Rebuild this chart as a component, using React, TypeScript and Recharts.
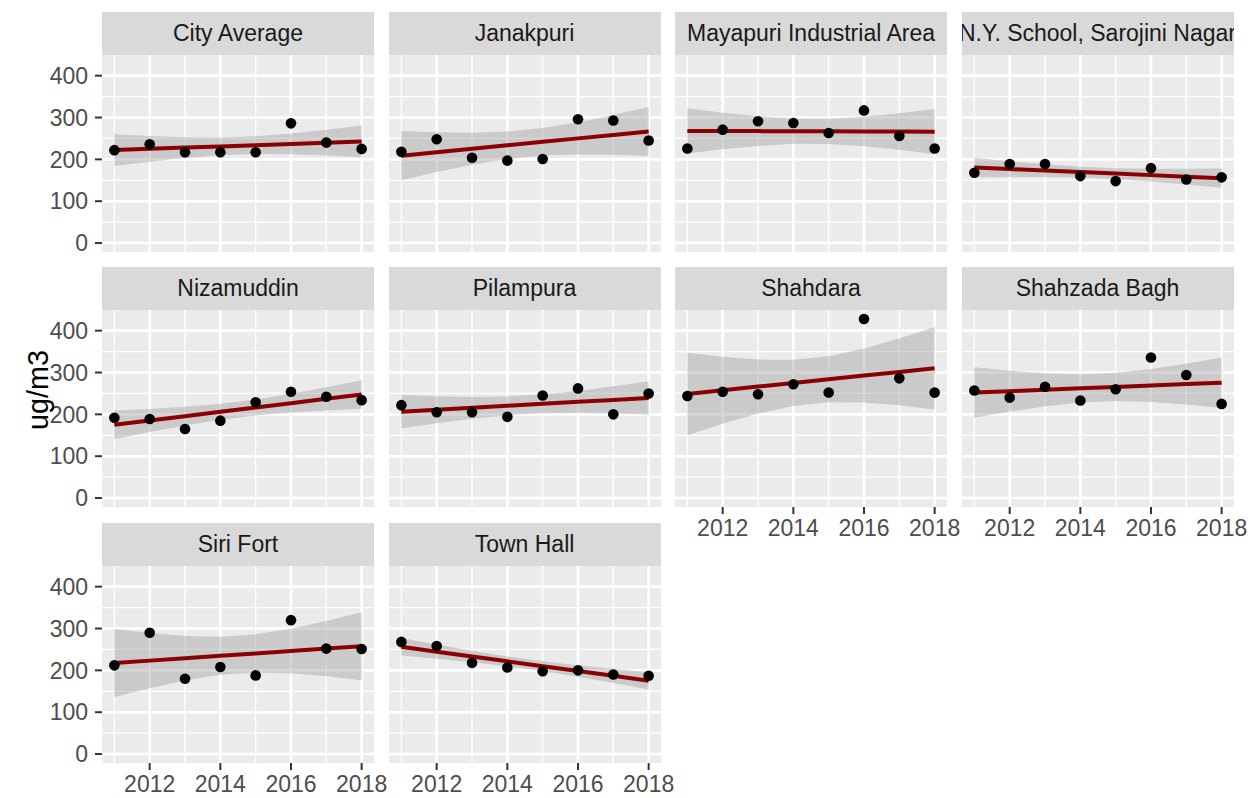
import {
  Area,
  CartesianGrid,
  ComposedChart,
  Line,
  Scatter,
  XAxis,
  YAxis,
} from "recharts"

// Annual mean concentration (ug/m3) per monitoring station
const YEARS = [2011, 2012, 2013, 2014, 2015, 2016, 2017, 2018]

const CITY_AVERAGE = [222, 236, 217, 217, 217, 286, 240, 225]
const JANAKPURI = [218, 248, 204, 197, 201, 296, 293, 245]
const MAYAPURI = [226, 271, 291, 287, 263, 317, 256, 226]
const NY_SCHOOL = [168, 189, 189, 160, 148, 179, 152, 157]
const NIZAMUDDIN = [192, 189, 165, 185, 229, 254, 242, 234]
const PILAMPURA = [222, 205, 205, 194, 245, 262, 200, 250]
const SHAHDARA = [244, 254, 248, 272, 252, 428, 286, 252]
const SHAHZADA_BAGH = [257, 240, 266, 233, 260, 336, 294, 225]
const SIRI_FORT = [212, 290, 180, 208, 188, 320, 252, 251]
const TOWN_HALL = [268, 258, 218, 207, 198, 200, 190, 187]

const STATIONS = [
  "City Average",
  "Janakpuri",
  "Mayapuri Industrial Area",
  "N.Y. School, Sarojini Nagar",
  "Nizamuddin",
  "Pilampura",
  "Shahdara",
  "Shahzada Bagh",
  "Siri Fort",
  "Town Hall",
]
const SERIES = [
  CITY_AVERAGE,
  JANAKPURI,
  MAYAPURI,
  NY_SCHOOL,
  NIZAMUDDIN,
  PILAMPURA,
  SHAHDARA,
  SHAHZADA_BAGH,
  SIRI_FORT,
  TOWN_HALL,
]

const X_TICKS = [2012, 2014, 2016, 2018]
const X_MINOR = [2011, 2013, 2015, 2017]
const Y_TICKS = [0, 100, 200, 300, 400]
const Y_MINOR = [50, 150, 250, 350]

// layout
const NCOL = 4
const PLOT_LEFT = 102
const PLOT_W = 272
const COL_STEP = 286.5
const ROW_TOPS = [12, 267, 523]
const STRIP_H = 43
const PLOT_H = 197
const Y_AXIS_W = PLOT_LEFT
const X_AXIS_H = 34
const RIGHT_PAD = 18
const BOTTOM_PAD = 10

const FONT = "'Liberation Sans', Arial, Helvetica, sans-serif"
const T_975_DF6 = 2.446912

// lm(y ~ year) with 95% confidence band, as geom_smooth(method = "lm")
function lmFit(values: number[]) {
  const n = values.length
  const xbar = YEARS.reduce((a, b) => a + b, 0) / n
  const ybar = values.reduce((a, b) => a + b, 0) / n
  let sxx = 0
  let sxy = 0
  YEARS.forEach((x, i) => {
    sxx += (x - xbar) ** 2
    sxy += (x - xbar) * (values[i] - ybar)
  })
  const slope = sxy / sxx
  const fit = YEARS.map((x) => ybar + slope * (x - xbar))
  const sse = values.reduce((a, y, i) => a + (y - fit[i]) ** 2, 0)
  const s = Math.sqrt(sse / (n - 2))
  const half = YEARS.map(
    (x) => T_975_DF6 * s * Math.sqrt(1 / n + (x - xbar) ** 2 / sxx)
  )
  return YEARS.map((year, i) => ({
    year,
    value: values[i],
    fit: fit[i],
    band: [fit[i] - half[i], fit[i] + half[i]],
  }))
}

const Dot = (props: any) => {
  const { cx, cy } = props
  if (cx == null || cy == null) return null
  return <circle cx={cx} cy={cy} r={5.3} fill="#000" />
}

function Panel({ idx }: { idx: number }) {
  const row = Math.floor(idx / NCOL)
  const col = idx % NCOL
  const showY = col === 0
  const lastInCol = idx + NCOL >= STATIONS.length
  const left = PLOT_LEFT + col * COL_STEP
  const top = ROW_TOPS[row]
  const data = lmFit(SERIES[idx])
  const chartW = PLOT_W + (showY ? Y_AXIS_W : 0) + RIGHT_PAD
  const chartH = PLOT_H + (lastInCol ? X_AXIS_H : 0) + BOTTOM_PAD

  return (
    <>
      <div
        style={{
          position: "absolute",
          left,
          top,
          width: PLOT_W,
          height: STRIP_H,
          background: "#D9D9D9",
          overflow: "hidden",
          display: "flex",
          alignItems: "center",
          justifyContent: "center",
        }}
      >
        <span
          style={{
            whiteSpace: "nowrap",
            fontFamily: FONT,
            fontSize: 23,
            color: "#1A1A1A",
          }}
        >
          {STATIONS[idx]}
        </span>
      </div>
      <div
        style={{
          position: "absolute",
          left: showY ? left - Y_AXIS_W : left,
          top: top + STRIP_H,
        }}
      >
        <ComposedChart
          width={chartW}
          height={chartH}
          data={data}
          margin={{ top: 0, right: RIGHT_PAD, bottom: BOTTOM_PAD, left: 0 }}
        >
          <CartesianGrid
            fill="#EBEBEB"
            stroke="#FFFFFF"
            strokeWidth={1.3}
            horizontalValues={Y_MINOR}
            verticalValues={X_MINOR}
          />
          <CartesianGrid
            stroke="#FFFFFF"
            strokeWidth={2.6}
            horizontalValues={Y_TICKS}
            verticalValues={X_TICKS}
          />
          <XAxis
            dataKey="year"
            type="number"
            domain={[2010.65, 2018.35]}
            ticks={X_TICKS}
            hide={!lastInCol}
            height={X_AXIS_H}
            axisLine={false}
            tickLine={{ stroke: "#333333", strokeWidth: 2 }}
            tickSize={7}
            tickMargin={6}
            tick={{ fill: "#4D4D4D", fontSize: 23, fontFamily: FONT }}
            interval={0}
          />
          <YAxis
            type="number"
            domain={[-21.4, 449.4]}
            ticks={Y_TICKS}
            hide={!showY}
            width={Y_AXIS_W}
            axisLine={false}
            tickLine={{ stroke: "#333333", strokeWidth: 2 }}
            tickSize={7}
            tickMargin={7}
            tick={{ fill: "#4D4D4D", fontSize: 23, fontFamily: FONT }}
            interval={0}
          />
          <Area
            type="linear"
            dataKey="band"
            stroke="none"
            fill="#999999"
            fillOpacity={0.4}
            isAnimationActive={false}
          />
          <Line
            type="linear"
            dataKey="fit"
            stroke="#8B0000"
            strokeWidth={4}
            dot={false}
            activeDot={false}
            isAnimationActive={false}
          />
          <Scatter dataKey="value" shape={<Dot />} isAnimationActive={false} />
        </ComposedChart>
      </div>
    </>
  )
}

export default function App() {
  return (
    <div
      style={{
        position: "absolute",
        left: 0,
        top: 0,
        width: 1252,
        height: 798,
        background: "#FFFFFF",
        overflow: "hidden",
      }}
    >
      {STATIONS.map((_, i) => (
        <Panel key={STATIONS[i]} idx={i} />
      ))}
      <div
        style={{
          position: "absolute",
          left: 38,
          top: 390,
          transform: "translate(-50%, -50%) rotate(-90deg)",
          fontFamily: FONT,
          fontSize: 28.75,
          color: "#000000",
          whiteSpace: "nowrap",
        }}
      >
        ug/m3
      </div>
    </div>
  )
}
